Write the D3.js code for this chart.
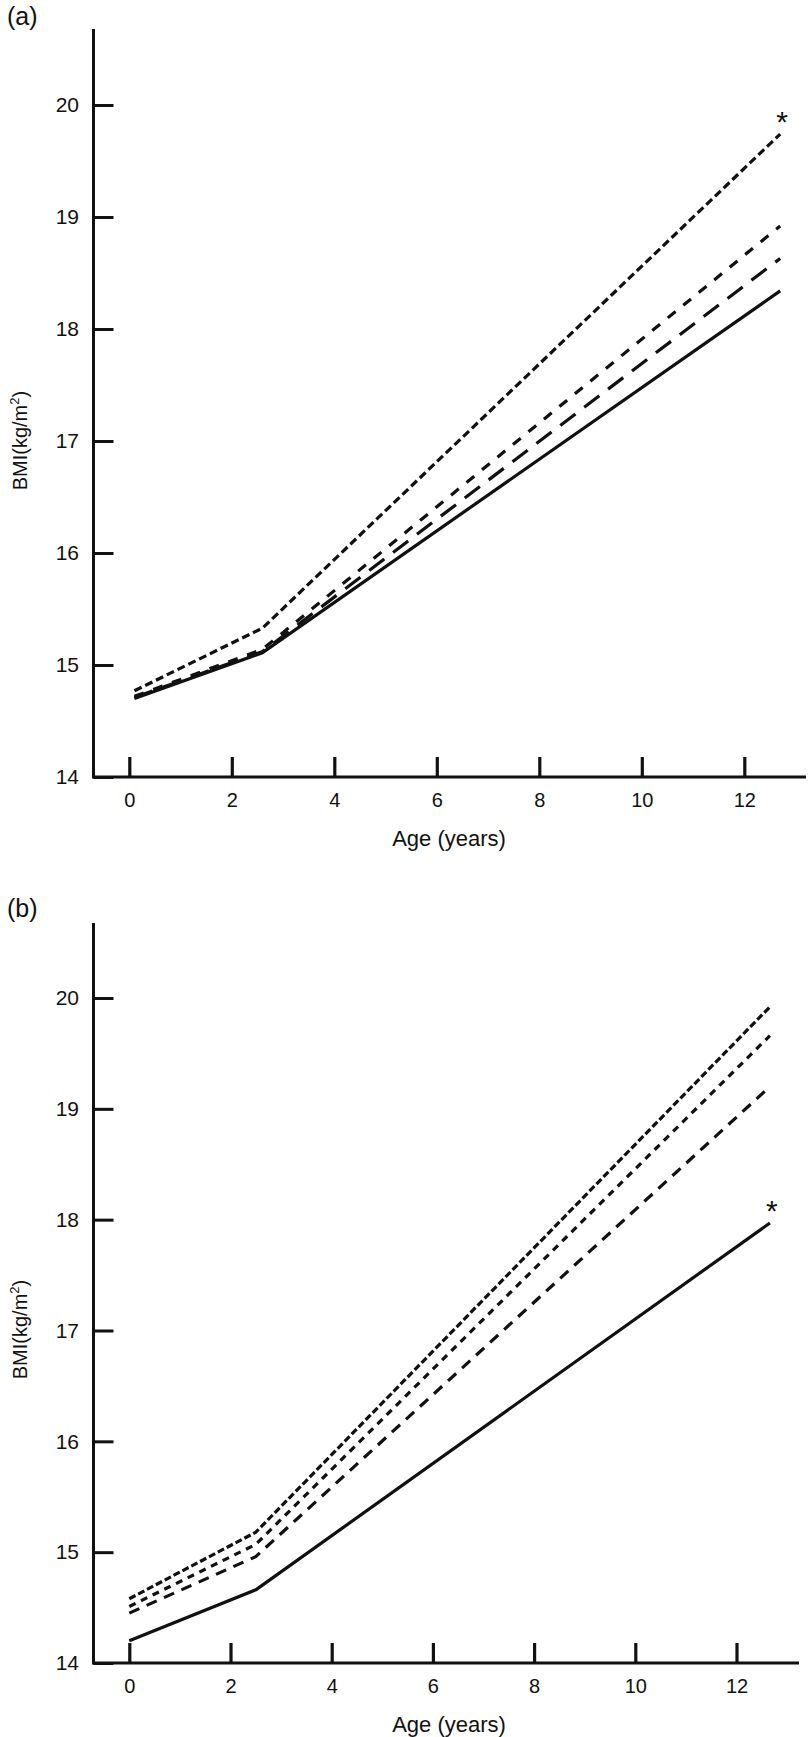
<!DOCTYPE html>
<html>
<head>
<meta charset="utf-8">
<script src="https://cdn.jsdelivr.net/npm/d3@7"></script>
<style>
  html, body { margin: 0; padding: 0; background: #fff; }
  svg { display: block; }
  text { font-family: "Liberation Sans", Arial, Helvetica, sans-serif; fill: #111; }
</style>
</head>
<body>
<svg id="chart" width="808" height="1737"></svg>
<script>
// ---------- data ----------
const xTicks = [0, 2, 4, 6, 8, 10, 12];
const yTicks = [14, 15, 16, 17, 18, 19, 20];

// Panel (a)
const ageA = [0.1, 2.6, 12.7];
const solidA = [14.70, 15.11, 18.34];
const longDashA = [14.71, 15.12, 18.63];
const shortDashA = [14.72, 15.14, 18.92];
const denseDashA = [14.77, 15.33, 19.74];

// Panel (b)
const ageB = [0, 2.5, 12.66];
const solidB = [14.20, 14.66, 17.97];
const longDashB = [14.45, 14.96, 19.20];
const shortDashB = [14.51, 15.07, 19.66];
const denseDashB = [14.58, 15.18, 19.92];

const panels = [
  {
    label: "(a)", labelY: 25,
    xRange: [129.3, 744.3], yRange: [777, 105], axisTop: 29, axisRight: 806,
    ages: ageA,
    series: [
      { values: solidA, dash: null },
      { values: longDashA, dash: "19,11" },
      { values: shortDashA, dash: "10,10" },
      { values: denseDashA, dash: "8,4" }
    ],
    star: 3
  },
  {
    label: "(b)", labelY: 917,
    xRange: [129.3, 736.5], yRange: [1663, 998], axisTop: 923, axisRight: 799,
    ages: ageB,
    series: [
      { values: solidB, dash: null },
      { values: longDashB, dash: "11,8" },
      { values: shortDashB, dash: "7,6" },
      { values: denseDashB, dash: "7,3" }
    ],
    star: 0
  }
];

const svg = d3.select("#chart");
const axisX0 = 93.5;

panels.forEach(p => {
  const x = d3.scaleLinear().domain([0, 12]).range(p.xRange);
  const y = d3.scaleLinear().domain([14, 20]).range(p.yRange);
  const g = svg.append("g");
  const base = p.yRange[0];

  // panel label
  g.append("text").attr("x", 7).attr("y", p.labelY)
    .style("font-size", "25px").text(p.label);

  // axis lines
  g.append("line").attr("x1", axisX0).attr("x2", axisX0)
    .attr("y1", p.axisTop).attr("y2", base + 1.5)
    .attr("stroke", "#111").attr("stroke-width", 3);
  g.append("line").attr("x1", axisX0).attr("x2", p.axisRight)
    .attr("y1", base).attr("y2", base)
    .attr("stroke", "#111").attr("stroke-width", 3);

  // y axis (ticks pointing inward)
  const ya = g.append("g").attr("transform", `translate(${axisX0},0)`)
    .call(d3.axisLeft(y).tickValues(yTicks).tickFormat(d3.format("d"))
      .tickSizeInner(-20).tickSizeOuter(0).tickPadding(14.5));
  ya.select(".domain").remove();
  ya.selectAll(".tick line").attr("stroke", "#111").attr("stroke-width", 3);
  ya.selectAll(".tick text").style("font-size", "21px")
    .style("font-family", '"Liberation Sans", Arial, sans-serif').attr("fill", "#111");

  // x axis (ticks pointing up)
  const xa = g.append("g").attr("transform", `translate(0,${base})`)
    .call(d3.axisBottom(x).tickValues(xTicks).tickFormat(d3.format("d"))
      .tickSizeInner(-20).tickSizeOuter(0).tickPadding(16));
  xa.select(".domain").remove();
  xa.selectAll(".tick line").attr("stroke", "#111").attr("stroke-width", 3.2);
  xa.selectAll(".tick text").style("font-size", "20px")
    .style("font-family", '"Liberation Sans", Arial, sans-serif').attr("fill", "#111");

  // axis titles
  g.append("text").attr("x", 449).attr("y", base + 69)
    .attr("text-anchor", "middle").style("font-size", "22px").text("Age (years)");

  const yl = g.append("text")
    .attr("transform", `translate(27,${y(16.56)}) rotate(-90)`)
    .attr("text-anchor", "start").style("font-size", "20px");
  yl.append("tspan").text("BMI(kg/m");
  yl.append("tspan").attr("dy", -8).style("font-size", "13px").text("2");
  yl.append("tspan").attr("dy", 8).text(")");

  // lines
  const line = d3.line().x(d => x(d[0])).y(d => y(d[1]));
  p.series.forEach(s => {
    const pts = p.ages.map((a, i) => [a, s.values[i]]);
    g.append("path").datum(pts)
      .attr("d", line)
      .attr("fill", "none")
      .attr("stroke", "#111")
      .attr("stroke-width", 3.2)
      .attr("stroke-linejoin", "round")
      .attr("stroke-dasharray", s.dash);
  });

  // significance asterisk
  const sv = p.series[p.star].values;
  const last = p.ages.length - 1;
  g.append("text")
    .attr("x", x(p.ages[last]) + 2)
    .attr("y", y(sv[last]) - 2)
    .attr("text-anchor", "middle")
    .style("font-size", "30px")
    .text("*");
});
</script>
</body>
</html>
